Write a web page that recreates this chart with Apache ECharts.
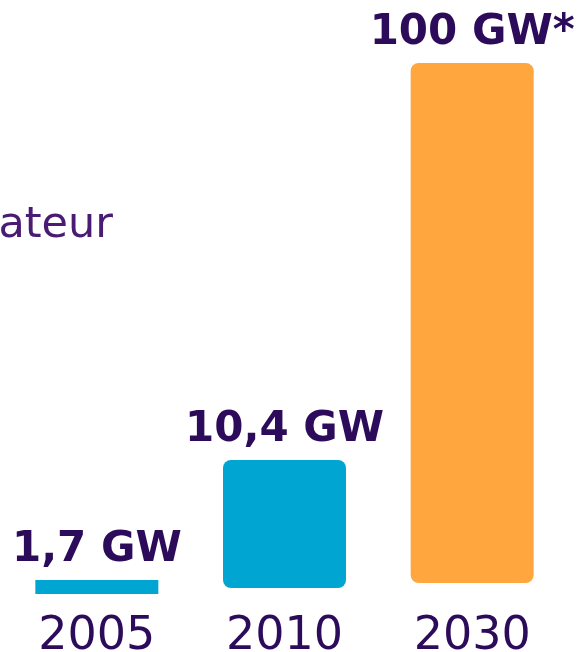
<!DOCTYPE html>
<html>
<head>
<meta charset="utf-8">
<script src="https://cdn.jsdelivr.net/npm/echarts@6/dist/echarts.min.js"></script>
<style>
  html, body { margin: 0; padding: 0; background: #fff; }
  #chart { width: 585px; height: 652px; }
</style>
</head>
<body>
<div id="chart"></div>
<script>
// données
var annees = ['2005', '2010', '2030'];
var etiquettes = ['1,7 GW', '10,4 GW', '100 GW*'];
var hauteurs = [14, 128, 520];   // hauteur visuelle des barres (non proportionnelle)
var decalages = [0, 6, 11];      // les barres ne partent pas toutes du même niveau
var couleurs = ['#00A5D1', '#00A5D1', '#FFA63F'];
var rayons = [0, 8, 8];

var violetFonce = '#2C0B5A';

var chart = echarts.init(document.getElementById('chart'));

var option = {
    animation: false,
    grid: { left: 3, right: 19, top: 0, bottom: 58, outerBoundsMode: 'none' },
    xAxis: {
        type: 'category',
        data: annees,
        axisLine: { show: false },
        axisTick: { show: false },
        axisLabel: {
            color: violetFonce,
            fontFamily: 'DejaVu Sans',
            fontSize: 46,
            margin: 20
        }
    },
    yAxis: {
        type: 'value',
        min: 0,
        max: 594,
        show: false,
        splitLine: { show: false }
    },
    series: [
        {
            type: 'bar',
            stack: 'a',
            barWidth: 123,
            itemStyle: { color: 'transparent' },
            silent: true,
            data: decalages
        },
        {
            type: 'bar',
            stack: 'a',
            barWidth: 123,
            data: hauteurs.map(function (h, i) {
                return {
                    value: h,
                    itemStyle: { color: couleurs[i], borderRadius: rayons[i] }
                };
            }),
            label: {
                show: true,
                position: 'top',
                distance: 9,
                color: violetFonce,
                fontFamily: 'DejaVu Sans',
                fontWeight: 'bold',
                fontSize: 42,
                formatter: function (p) { return etiquettes[p.dataIndex]; }
            }
        }
    ],
    graphic: [
        {
            type: 'text',
            right: 585 - 113,
            top: 204,
            style: {
                text: 'ateur',
                fill: '#4A1B73',
                font: '43px "DejaVu Sans"'
            }
        }
    ]
};

chart.setOption(option);
</script>
</body>
</html>
